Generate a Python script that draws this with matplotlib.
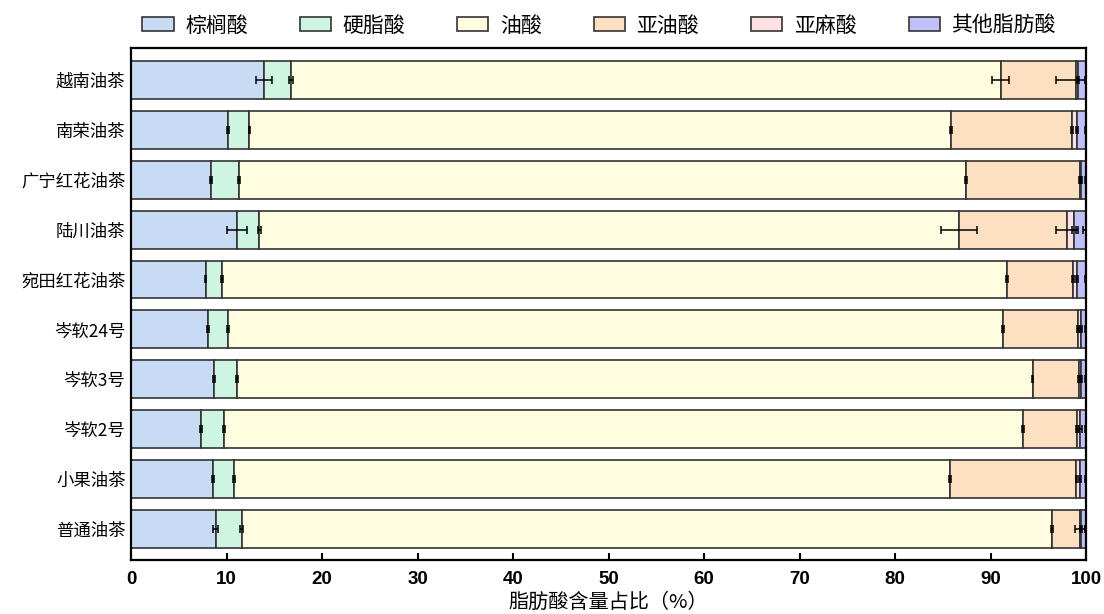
import numpy as np
import matplotlib
matplotlib.use("Agg")
import matplotlib.pyplot as plt

plt.rcParams["font.family"] = ["Noto Sans CJK SC", "DejaVu Sans"]

# ── Data: fatty-acid composition (% of total), one entry per cultivar ─────────
cultivars = ["越南油茶", "南荣油茶", "广宁红花油茶", "陆川油茶", "宛田红花油茶",
             "岑软24号", "岑软3号", "岑软2号", "小果油茶", "普通油茶"]
acids = ["棕榈酸", "硬脂酸", "油酸", "亚油酸", "亚麻酸", "其他脂肪酸"]

palmitic   = [13.90, 10.20,  8.35, 11.05,  7.80,  8.10,  8.70,  7.35,  8.55,  8.85]
stearic    = [ 2.85,  2.20,  3.00,  2.40,  1.70,  2.10,  2.35,  2.35,  2.25,  2.75]
oleic      = [74.30, 73.50, 76.05, 73.25, 82.20, 81.10, 83.35, 83.70, 75.00, 84.80]
linoleic   = [ 7.85, 12.65, 12.00, 11.30,  6.95,  7.90,  4.90,  5.70, 13.20,  2.95]
linolenic  = [ 0.30,  0.55,  0.10,  0.75,  0.45,  0.30,  0.15,  0.30,  0.35,  0.10]
others     = [ 0.80,  0.90,  0.50,  1.25,  0.90,  0.50,  0.55,  0.60,  0.65,  0.55]

# standard deviations
palmitic_sd  = [0.85, 0.10, 0.10, 1.05, 0.10, 0.10, 0.10, 0.10, 0.10, 0.30]
stearic_sd   = [0.20, 0.10, 0.10, 0.20, 0.10, 0.10, 0.10, 0.10, 0.10, 0.15]
oleic_sd     = [0.85, 0.10, 0.10, 1.85, 0.10, 0.10, 0.10, 0.10, 0.10, 0.10]
linoleic_sd  = [2.05, 0.10, 0.10, 1.15, 0.10, 0.10, 0.10, 0.10, 0.10, 0.50]
linolenic_sd = [0.10, 0.10, 0.10, 0.20, 0.10, 0.10, 0.10, 0.15, 0.10, 0.10]
others_sd    = [0.15, 0.10, 0.10, 0.30, 0.10, 0.15, 0.10, 0.10, 0.10, 0.10]

colors = ["#c7dbf4", "#cdf5e1", "#fefde0", "#fddfc2", "#fde1e2", "#bfbff9"]

series = [palmitic, stearic, oleic, linoleic, linolenic, others]
errors = [palmitic_sd, stearic_sd, oleic_sd, linoleic_sd, linolenic_sd, others_sd]

fig = plt.figure(figsize=(11.04, 6.14), dpi=100)
ax = fig.add_axes([0.1187, 0.088, 0.865, 0.834])

y = np.arange(len(cultivars))
left = np.zeros(len(cultivars))
for name, vals, sd, col in zip(acids, series, errors, colors):
    vals = np.array(vals)
    ax.barh(y, vals, left=left, height=0.76, color=col, edgecolor="#333333",
            linewidth=1.2, label=name, zorder=2)
    ends = left + vals
    ax.errorbar(ends, y, xerr=sd, fmt="none", ecolor="black", elinewidth=1.1,
                capsize=3.2, capthick=1.1, zorder=3)
    left = ends

ax.set_xlim(0, 100)
ax.set_ylim(9.62, -0.64)
ax.set_yticks(y)
ax.set_yticklabels(cultivars, fontsize=12.5, fontweight="medium")
ax.set_xticks(np.arange(0, 101, 10))
ax.set_xticklabels([str(v) for v in range(0, 101, 10)], fontsize=13.5,
                   fontweight="bold",
                   family=["Liberation Sans Narrow", "Liberation Sans", "DejaVu Sans"])
ax.tick_params(axis="x", direction="in", length=5, width=1.5, pad=8)
ax.tick_params(axis="y", length=0, pad=4)
for sp in ax.spines.values():
    sp.set_linewidth(1.6)
    sp.set_color("black")

ax.set_xlabel("脂肪酸含量占比（%）", fontsize=14.5, labelpad=3)

ax.legend(loc="lower center", bbox_to_anchor=(0.49, 1.0), ncol=6, frameon=False,
          prop={"size": 15, "weight": "medium"}, handlelength=1.5,
          handleheight=0.65, columnspacing=2.5, handletextpad=0.55,
          borderaxespad=0.15)

fig.savefig("out.png", dpi=100)
